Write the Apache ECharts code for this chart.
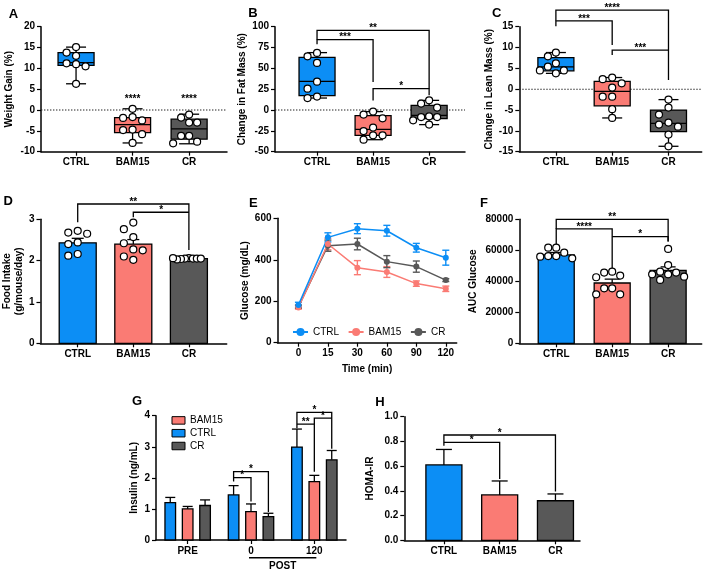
<!DOCTYPE html>
<html><head><meta charset="utf-8">
<script src="https://cdn.jsdelivr.net/npm/echarts@6/dist/echarts.min.js"></script>
<style>html,body{margin:0;padding:0;background:#fff}#c{width:709px;height:572px}</style>
</head><body><div id="c"></div>
<script>
const FONT = '"Liberation Sans", Arial, Helvetica, sans-serif';
const groups = ['CTRL', 'BAM15', 'CR'];
const groupColors = ['#0c8ef5', '#fa7b74', '#585858'];

// ---- A: Weight gain (%)
const weightGainPoints = [
  [15.1, 13.8, 13.0, 11.2, 11.0, 10.5, 6.3],
  [0.3, -1.7, -1.9, -2.5, -4.7, -4.8, -5.8, -7.9],
  [-1.1, -1.8, -3.0, -3.0, -6.2, -6.2, -7.6, -8.0]
];
const weightGainBox = [ // min, q1, median, q3, max
  [6.3, 10.7, 11.4, 13.8, 15.1],
  [-7.9, -5.4, -3.5, -1.8, 0.3],
  [-8.1, -7.0, -4.5, -2.2, -1.0]
];
const weightGainStars = [{x: 1, y: 2.2, text: '****'}, {x: 2, y: 2.2, text: '****'}];

// ---- B: Change in fat mass (%)
const fatMassPoints = [
  [68.5, 64.5, 56.5, 34.0, 25.6, 16.1, 14.4],
  [-1.9, -5.5, -10.0, -21.0, -25.2, -30.4, -30.4, -35.6],
  [11.6, 7.7, 2.9, -7.6, -8.4, -8.4, -12.4, -17.5]
];
const fatMassBox = [
  [14.4, 17.3, 34.4, 63.2, 68.9],
  [-35.6, -30.4, -23.2, -6.7, -1.9],
  [-17.5, -10.3, -6.4, 5.6, 11.6]
];
const fatMassBrackets = [
  {from: 0, to: 2, y: 95.6, yFrom: 84.5, yTo: 25.7, text: '**'},
  {from: 0, to: 1, y: 84.5, yFrom: 79, yTo: 33.6, text: '***'},
  {from: 1, to: 2, y: 25.7, yFrom: 11.5, yTo: 17.6, text: '*'}
];

// ---- C: Change in lean mass (%)
const leanMassPoints = [
  [8.8, 7.9, 6.2, 5.4, 4.5, 4.5, 3.8],
  [2.8, 2.4, 1.4, 0.4, -1.8, -1.8, -4.8, -6.9],
  [-2.5, -4.4, -6.1, -8.0, -8.5, -9.0, -10.9, -13.7]
];
const leanMassBox = [
  [3.8, 4.4, 5.35, 7.6, 8.8],
  [-6.9, -4.0, -0.5, 1.9, 2.8],
  [-13.7, -10.2, -8.2, -5.0, -2.5]
];
const leanMassBrackets = [
  {from: 0, to: 2, y: 19.0, yFrom: 16.4, yTo: 2.2, text: '****'},
  {from: 0, to: 1, y: 16.4, yFrom: 15.1, yTo: 10.6, text: '***'},
  {from: 1, to: 2, y: 9.4, yFrom: 8.2, yTo: 9.4, text: '***'}
];

// ---- D: Food intake (g/mouse/day)
const foodIntakeMean = [2.43, 2.40, 2.05];
const foodIntakeSem = [0.11, 0.11, 0.01];
const foodIntakePoints = [
  [2.72, 2.68, 2.65, 2.44, 2.40, 2.16, 2.12],
  [2.92, 2.76, 2.57, 2.42, 2.27, 2.25, 2.10, 2.02],
  [2.06, 2.05, 2.05, 2.04, 2.05, 2.03, 2.05, 2.06]
];
const foodIntakeBrackets = [
  {from: 0, to: 2, y: 3.37, yFrom: 2.93, yTo: 2.26, text: '**'},
  {from: 1, to: 2, y: 3.17, yFrom: 3.05, yTo: 3.17, text: '*'}
];

// ---- E: Glucose tolerance (mg/dL)
const timeLabels = ['0', '15', '30', '60', '90', '120'];
const glucoseCTRL = [182, 508, 550, 540, 458, 410];
const glucoseCTRLSem = [13, 22, 24, 26, 21, 36];
const glucoseBAM15 = [170, 476, 362, 341, 285, 260];
const glucoseBAM15Sem = [8, 28, 34, 26, 13, 13];
const glucoseCR = [174, 468, 476, 391, 367, 302];
const glucoseCRSem = [8, 27, 28, 29, 27, 7];

// ---- F: AUC glucose
const aucMean = [57000, 38900, 47000];
const aucSem = [1600, 2500, 2300];
const aucPoints = [
  [61700, 61700, 58500, 56300, 56300, 55900, 54800],
  [46200, 45600, 43700, 42600, 35500, 35500, 31600, 31600],
  [60900, 50500, 46200, 45600, 44500, 44500, 43000, 40900]
];
const aucBrackets = [
  {from: 0, to: 2, y: 80000, yFrom: 73800, yTo: 65600, text: '**'},
  {from: 0, to: 1, y: 73800, yFrom: 63000, yTo: 48400, text: '****'},
  {from: 1, to: 2, y: 68800, yFrom: 68800, yTo: 65600, text: '*'}
];

// ---- G: Insulin (ng/mL)
const insulinTimes = ['PRE', '0', '120'];
const insulinCTRL = [1.20, 1.45, 2.99];
const insulinCTRLSem = [0.17, 0.30, 0.58];
const insulinBAM15 = [1.00, 0.91, 1.88];
const insulinBAM15Sem = [0.08, 0.25, 0.20];
const insulinCR = [1.11, 0.75, 2.58];
const insulinCRSem = [0.18, 0.11, 0.30];
const insulinLegendOrder = ['BAM15', 'CTRL', 'CR'];
const insulinBrackets = [ // from/to: [time index, group index]
  {from: [1, 0], to: [1, 2], y: 2.20, yFrom: 1.88, yTo: 0.90, text: '*'},
  {from: [1, 0], to: [1, 1], y: 2.01, yFrom: 2.01, yTo: 1.24, text: '*'},
  {from: [2, 0], to: [2, 2], y: 4.11, yFrom: 3.60, yTo: 2.94, text: '*'},
  {from: [2, 0], to: [2, 1], y: 3.73, yFrom: 3.73, yTo: 2.20, text: '**'},
  {from: [2, 1], to: [2, 2], y: 3.92, yFrom: 3.73, yTo: 3.92, text: '*'}
];
const insulinPostGroup = {from: 1, to: 2, text: 'POST'};

// ---- H: HOMA-IR
const homaMean = [0.61, 0.367, 0.32];
const homaSem = [0.125, 0.113, 0.055];
const homaBrackets = [
  {from: 0, to: 2, y: 0.852, yFrom: 0.765, yTo: 0.394, text: '*'},
  {from: 0, to: 1, y: 0.792, yFrom: 0.792, yTo: 0.496, text: '*'}
];

// ================= layout =================
const grids = [
  {left: 41, top: 26.7, width: 186, height: 125},      // A
  {left: 275, top: 26.7, width: 190, height: 125},     // B
  {left: 519.3, top: 26.7, width: 182.4, height: 125}, // C
  {left: 39.3, top: 219.3, width: 187.4, height: 124}, // D
  {left: 277.5, top: 218.3, width: 179.2, height: 124.4}, // E
  {left: 519.3, top: 219.3, width: 182.4, height: 124}, // F
  {left: 156, top: 415.7, width: 190, height: 124.3},  // G
  {left: 404.3, top: 416.7, width: 175.7, height: 123.6} // H
];
const xRanges = [[-0.62, 2.67], [-0.75, 2.64], [-0.65, 2.59], [-0.67, 2.68], [-0.71, 5.37], [-0.66, 2.6], null, [-0.71, 2.44]];
const yRanges = [[-10, 20, 5], [-50, 100, 25], [-15, 15, 5], [0, 3, 1], [0, 600, 200], [0, 80000, 20000], [0, 4, 1], [0, 1, 0.2]];
const panelLabels = [['A', 13.5, 14], ['B', 253, 13.7], ['C', 496.7, 13.3], ['D', 8.3, 201.7], ['E', 253.3, 203.3], ['F', 484, 203], ['G', 137, 401], ['H', 380, 402]];

const BLACK = '#000';
const lineSt = {stroke: BLACK, lineWidth: 1.3};

function xGroupAxis(gi, labels, extra) {
  const vals = labels.map((_, i) => i);
  return Object.assign({
    gridIndex: gi, type: 'value', min: xRanges[gi][0], max: xRanges[gi][1],
    axisLine: {show: true, onZero: false, lineStyle: {color: BLACK, width: 1.5}},
    axisTick: {show: true, customValues: vals, length: 4, lineStyle: {color: BLACK, width: 1.2}},
    axisLabel: {show: true, customValues: vals, formatter: v => labels[Math.round(v)] ?? '',
      fontWeight: 'bold', fontSize: 10, color: BLACK, margin: 6, fontFamily: FONT},
    splitLine: {show: false}
  }, extra || {});
}
function yValAxis(gi, name, nameGap, fmt) {
  const r = yRanges[gi];
  return {
    gridIndex: gi, type: 'value', min: r[0], max: r[1], interval: r[2],
    name, nameLocation: 'middle', nameGap, nameRotate: 90,
    nameTextStyle: {fontWeight: 'bold', fontSize: 10, color: BLACK, fontFamily: FONT, lineHeight: 12},
    axisLine: {show: true, onZero: false, lineStyle: {color: BLACK, width: 1.5}},
    axisTick: {show: true, length: 4, lineStyle: {color: BLACK, width: 1.2}},
    axisLabel: {fontWeight: 'bold', fontSize: 10, color: BLACK, margin: 6, fontFamily: FONT,
      formatter: fmt || (v => String(v))},
    splitLine: {show: false}
  };
}
function pxPerY(gi) { const r = yRanges[gi]; return grids[gi].height / (r[1] - r[0]); }
function pxPerX(gi) { const r = xRanges[gi]; return grids[gi].width / (r[1] - r[0]); }

// beeswarm-like horizontal spreading of dots (pixel-based, converted to axis units)
function swarm(vals, py, px) {
  const d = 9.5, minDist = 7.6, maxSpread = 16;
  const placed = [];
  const offs = vals.map(v => {
    const y = v * py;
    for (let k = 0; k < 30; k++) {
      const o = (k === 0 ? 0 : (k % 2 ? -1 : 1) * Math.ceil(k / 2)) * d;
      if (placed.every(p => Math.hypot(p[0] - o, p[1] - y) >= minDist)) { placed.push([o, y]); return o; }
    }
    return 0;
  });
  const m = Math.max(...offs.map(Math.abs));
  const s = m > maxSpread ? maxSpread / m : 1;
  return offs.map(o => o * s / px);
}

function dotsSeries(gi, pts) {
  const data = [];
  pts.forEach((vals, i) => {
    const offs = swarm(vals, pxPerY(gi), pxPerX(gi));
    vals.forEach((v, j) => data.push([i + offs[j], v]));
  });
  return {type: 'scatter', xAxisIndex: gi, yAxisIndex: gi, data, symbol: 'circle', symbolSize: 7,
    itemStyle: {color: '#fff', borderColor: BLACK, borderWidth: 1.2, opacity: 1}, z: 6, silent: true};
}
function zeroLine(gi) {
  return {type: 'custom', xAxisIndex: gi, yAxisIndex: gi, data: [[0, 0]], z: 1, silent: true,
    renderItem: (params, api) => {
      const cs = params.coordSys; const y = api.coord([0, 0])[1];
      return {type: 'line', shape: {x1: cs.x, y1: y, x2: cs.x + cs.width, y2: y},
        style: {stroke: '#222', lineWidth: 1.1, lineDash: [1.4, 1.6]}};
    }};
}
function boxSeries(gi, boxes) {
  return {type: 'custom', xAxisIndex: gi, yAxisIndex: gi, z: 3, silent: true,
    data: boxes.map((b, i) => [i, ...b]),
    encode: {x: 0, y: [1, 2, 3, 4, 5]},
    renderItem: (params, api) => {
      const i = api.value(0);
      const c = v => api.coord([i, v]);
      const pMin = c(api.value(1)), pQ1 = c(api.value(2)), pMed = c(api.value(3)), pQ3 = c(api.value(4)), pMax = c(api.value(5));
      const x = pMin[0], hw = 18, cw = 10;
      return {type: 'group', children: [
        {type: 'line', shape: {x1: x, y1: pMax[1], x2: x, y2: pQ3[1]}, style: lineSt},
        {type: 'line', shape: {x1: x - cw, y1: pMax[1], x2: x + cw, y2: pMax[1]}, style: lineSt},
        {type: 'line', shape: {x1: x, y1: pQ1[1], x2: x, y2: pMin[1]}, style: lineSt},
        {type: 'line', shape: {x1: x - cw, y1: pMin[1], x2: x + cw, y2: pMin[1]}, style: lineSt},
        {type: 'rect', shape: {x: x - hw, y: pQ3[1], width: 2 * hw, height: pQ1[1] - pQ3[1]},
          style: {fill: groupColors[i], stroke: BLACK, lineWidth: 1.3}},
        {type: 'line', shape: {x1: x - hw, y1: pMed[1], x2: x + hw, y2: pMed[1]}, style: lineSt}
      ]};
    }};
}
function barSeries(gi, means, sems, hw, cw) {
  return {type: 'custom', xAxisIndex: gi, yAxisIndex: gi, z: 3, silent: true,
    data: means.map((m, i) => [i, m, sems[i]]),
    encode: {x: 0, y: [1]},
    renderItem: (params, api) => {
      const i = api.value(0), v = api.value(1), e = api.value(2);
      const p0 = api.coord([i, 0]), p1 = api.coord([i, v]), p2 = api.coord([i, v + e]);
      const x = p0[0];
      return {type: 'group', children: [
        {type: 'line', shape: {x1: x, y1: p1[1], x2: x, y2: p2[1]}, style: lineSt},
        {type: 'line', shape: {x1: x - cw, y1: p2[1], x2: x + cw, y2: p2[1]}, style: lineSt},
        {type: 'rect', shape: {x: x - hw, y: p1[1], width: 2 * hw, height: p0[1] - p1[1]},
          style: {fill: groupColors[i], stroke: BLACK, lineWidth: 1.3}}
      ]};
    }};
}
function starText(x, y, text) {
  return {type: 'text', style: {text, x, y: y + 3, align: 'center', verticalAlign: 'bottom',
    textAlign: 'center', textVerticalAlign: 'bottom', font: 'bold 10px ' + FONT, fill: BLACK}};
}
// brackets: xOf maps an endpoint spec to an axis x value + pixel offset
function bracketSeries(gi, list, xOf) {
  xOf = xOf || (e => [e, 0]);
  return {type: 'custom', xAxisIndex: gi, yAxisIndex: gi, z: 5, silent: true, clip: false,
    data: list.map((b, i) => [i, b.y, b.yFrom, b.yTo]),
    encode: {y: [1, 2, 3]},
    renderItem: (params, api) => {
      const b = list[params.dataIndex];
      const [xa, oa] = xOf(b.from), [xb, ob] = xOf(b.to);
      const pA = api.coord([xa, b.y]), pB = api.coord([xb, b.y]);
      const yA = api.coord([xa, b.yFrom])[1], yB = api.coord([xb, b.yTo])[1];
      const ax = pA[0] + oa, bx = pB[0] + ob;
      return {type: 'group', children: [
        {type: 'polyline', shape: {points: [[ax, yA], [ax, pA[1]], [bx, pB[1]], [bx, yB]]},
          style: {stroke: BLACK, lineWidth: 1.3, fill: null}},
        starText((ax + bx) / 2, pA[1], b.text)
      ]};
    }};
}
function starsSeries(gi, list) {
  return {type: 'custom', xAxisIndex: gi, yAxisIndex: gi, z: 5, silent: true,
    data: list.map(s => [s.x, s.y]),
    renderItem: (params, api) => {
      const p = api.coord([api.value(0), api.value(1)]);
      return starText(p[0], p[1], list[params.dataIndex].text);
    }};
}

// ---- E series
const glucoseSets = [[glucoseCTRL, glucoseCTRLSem], [glucoseBAM15, glucoseBAM15Sem], [glucoseCR, glucoseCRSem]];
const eSeries = [];
glucoseSets.forEach(([vals, sems], k) => {
  eSeries.push({type: 'custom', xAxisIndex: 4, yAxisIndex: 4, z: 3, silent: true,
    data: vals.map((v, i) => [i, v, sems[i]]), encode: {x: 0, y: [1]},
    renderItem: (params, api) => {
      const i = api.value(0), v = api.value(1), e = api.value(2);
      const pt = api.coord([i, v + e]), pb = api.coord([i, v - e]);
      const st = {stroke: groupColors[k], lineWidth: 1.4};
      const x = pt[0], cw = 3.5;
      return {type: 'group', children: [
        {type: 'line', shape: {x1: x, y1: pt[1], x2: x, y2: pb[1]}, style: st},
        {type: 'line', shape: {x1: x - cw, y1: pt[1], x2: x + cw, y2: pt[1]}, style: st},
        {type: 'line', shape: {x1: x - cw, y1: pb[1], x2: x + cw, y2: pb[1]}, style: st}
      ]};
    }});
});
[2, 1, 0].forEach(k => {
  const vals = glucoseSets[k][0];
  eSeries.push({type: 'line', name: 'E:' + groups[k], xAxisIndex: 4, yAxisIndex: 4, z: 4, silent: true,
    data: vals.map((v, i) => [i, v]), symbol: 'circle', symbolSize: 6, showSymbol: true,
    lineStyle: {width: 1.5, color: groupColors[k]}, itemStyle: {color: groupColors[k]}});
});

// ---- G series
const insulinSets = [[insulinCTRL, insulinCTRLSem], [insulinBAM15, insulinBAM15Sem], [insulinCR, insulinCRSem]];
const G_BAR_STEP = 17.4, G_HW = 5.3;
const gSeries = insulinSets.map(([vals, sems], k) => ({
  type: 'custom', name: 'G:' + groups[k], xAxisIndex: 6, yAxisIndex: 6, z: 3, silent: true,
  itemStyle: {color: groupColors[k]},
  data: vals.map((v, i) => [i, v, sems[i]]), encode: {x: 0, y: [1]},
  renderItem: (params, api) => {
    const i = api.value(0), v = api.value(1), e = api.value(2);
    const p0 = api.coord([i, 0]), p1 = api.coord([i, v]), p2 = api.coord([i, v + e]);
    const x = p0[0] + (k - 1) * G_BAR_STEP;
    return {type: 'group', children: [
      {type: 'line', shape: {x1: x, y1: p1[1], x2: x, y2: p2[1]}, style: lineSt},
      {type: 'line', shape: {x1: x - 5, y1: p2[1], x2: x + 5, y2: p2[1]}, style: lineSt},
      {type: 'rect', shape: {x: x - G_HW, y: p1[1], width: 2 * G_HW, height: p0[1] - p1[1]},
        style: {fill: groupColors[k], stroke: BLACK, lineWidth: 1.3}}
    ]};
  }
}));
gSeries.push(bracketSeries(6, insulinBrackets, e => [e[0], (e[1] - 1) * G_BAR_STEP]));
gSeries.push({type: 'custom', xAxisIndex: 6, yAxisIndex: 6, z: 5, silent: true, clip: false,
  data: [[insulinPostGroup.from, insulinPostGroup.to]],
  renderItem: (params, api) => {
    const a = api.coord([api.value(0), 0]), b = api.coord([api.value(1), 0]);
    const y = a[1] + 17.7;
    return {type: 'group', children: [
      {type: 'line', shape: {x1: a[0] - 2, y1: y, x2: b[0] + 2, y2: y}, style: {stroke: BLACK, lineWidth: 1.5}},
      {type: 'text', style: {text: insulinPostGroup.text, x: (a[0] + b[0]) / 2, y: y + 8.5, align: 'center', verticalAlign: 'middle',
        textAlign: 'center', textVerticalAlign: 'middle', font: 'bold 10px ' + FONT, fill: BLACK}}
    ]};
  }});

const option = {
  animation: false,
  backgroundColor: '#fff',
  textStyle: {fontFamily: FONT},
  grid: grids.map(g => Object.assign({containLabel: false}, g)),
  xAxis: [
    xGroupAxis(0, groups), xGroupAxis(1, groups), xGroupAxis(2, groups), xGroupAxis(3, groups),
    xGroupAxis(4, timeLabels, {name: 'Time (min)', nameLocation: 'middle', nameGap: 21.5,
      nameTextStyle: {fontWeight: 'bold', fontSize: 10, color: BLACK, fontFamily: FONT}}),
    xGroupAxis(5, groups),
    {gridIndex: 6, type: 'category', data: insulinTimes, boundaryGap: true,
      axisLine: {show: true, onZero: false, lineStyle: {color: BLACK, width: 1.5}},
      axisTick: {show: true, alignWithLabel: true, length: 4, lineStyle: {color: BLACK, width: 1.2}},
      axisLabel: {fontWeight: 'bold', fontSize: 10, color: BLACK, margin: 6, fontFamily: FONT}},
    xGroupAxis(7, groups)
  ],
  yAxis: [
    yValAxis(0, 'Weight Gain (%)', 26),
    yValAxis(1, 'Change in Fat Mass (%)', 21.7),
    yValAxis(2, 'Change in Lean Mass (%)', 18.3),
    yValAxis(3, 'Food Intake\n(g/mouse/day)', 14.3),
    yValAxis(4, 'Glucose (mg/dL)', 22.7),
    yValAxis(5, 'AUC Glucose', 39.8),
    yValAxis(6, 'Insulin (ng/mL)', 12.3),
    yValAxis(7, 'HOMA-IR', 28.3, v => v.toFixed(1))
  ],
  legend: [
    {left: 287, top: 321, orient: 'horizontal', itemWidth: 15, itemHeight: 10, itemGap: 8.5,
      data: groups.map(g => 'E:' + g), formatter: n => n.slice(2), selectedMode: false,
      textStyle: {fontSize: 10, color: BLACK, fontFamily: FONT, lineHeight: 12}},
    {left: 166.5, top: 409, orient: 'vertical', itemWidth: 13, itemHeight: 7.5, itemGap: 0, icon: 'rect',
      itemStyle: {borderColor: BLACK, borderWidth: 1},
      data: insulinLegendOrder.map(g => 'G:' + g), formatter: n => n.slice(2), selectedMode: false,
      textStyle: {fontSize: 10, color: BLACK, fontFamily: FONT, lineHeight: 12.8}}
  ],
  graphic: {elements: panelLabels.map(([t, x, y]) => ({type: 'text', x, y, silent: true,
    style: {text: t, align: 'center', verticalAlign: 'middle', textAlign: 'center', textVerticalAlign: 'middle',
      font: 'bold 13px ' + FONT, fill: BLACK}}))},
  series: [
    // A
    zeroLine(0), boxSeries(0, weightGainBox), dotsSeries(0, weightGainPoints), starsSeries(0, weightGainStars),
    // B
    zeroLine(1), boxSeries(1, fatMassBox), dotsSeries(1, fatMassPoints), bracketSeries(1, fatMassBrackets),
    // C
    zeroLine(2), boxSeries(2, leanMassBox), dotsSeries(2, leanMassPoints), bracketSeries(2, leanMassBrackets),
    // D
    barSeries(3, foodIntakeMean, foodIntakeSem, 18.5, 6), dotsSeries(3, foodIntakePoints), bracketSeries(3, foodIntakeBrackets),
    // E
    ...eSeries,
    // F
    barSeries(5, aucMean, aucSem, 18, 7.5), dotsSeries(5, aucPoints), bracketSeries(5, aucBrackets),
    // G
    ...gSeries,
    // H
    barSeries(7, homaMean, homaSem, 18, 8), bracketSeries(7, homaBrackets)
  ]
};
const chart = echarts.init(document.getElementById('c'), null, {renderer: 'canvas'});
chart.setOption(option);
</script>
</body></html>
